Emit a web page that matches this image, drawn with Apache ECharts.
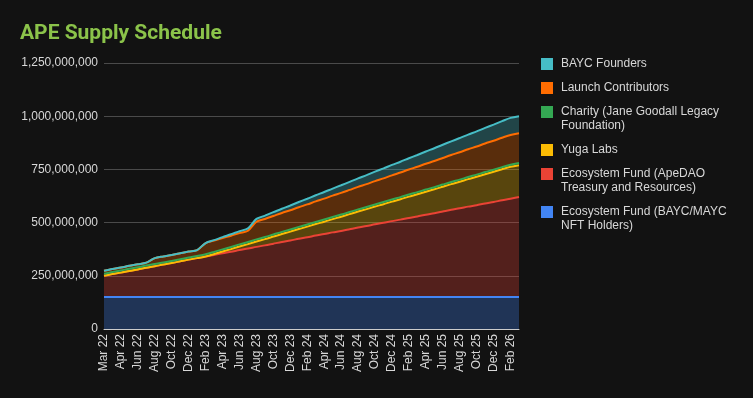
<!DOCTYPE html>
<html>
<head>
<meta charset="utf-8">
<script src="https://cdn.jsdelivr.net/npm/echarts@6/dist/echarts.min.js"></script>
<style>
  html, body { margin: 0; padding: 0; background: #121212; }
  #chart { width: 753px; height: 398px; }
</style>
</head>
<body>
<div id="chart"></div>
<script>
// months on the x axis (first two points are both in Mar 22)
const months = [
  "Mar 22", "Mar 22", "Apr 22", "May 22", "Jun 22", "Jul 22", "Aug 22", "Sep 22", "Oct 22", "Nov 22", "Dec 22",
  "Jan 23", "Feb 23", "Mar 23", "Apr 23", "May 23", "Jun 23", "Jul 23", "Aug 23", "Sep 23", "Oct 23", "Nov 23", "Dec 23",
  "Jan 24", "Feb 24", "Mar 24", "Apr 24", "May 24", "Jun 24", "Jul 24", "Aug 24", "Sep 24", "Oct 24", "Nov 24", "Dec 24",
  "Jan 25", "Feb 25", "Mar 25", "Apr 25", "May 25", "Jun 25", "Jul 25", "Aug 25", "Sep 25", "Oct 25", "Nov 25", "Dec 25",
  "Jan 26", "Feb 26", "Mar 26"
];

// unlocked supply per allocation, in millions of APE
const nftHolders = [
  150, 150, 150, 150, 150, 150, 150, 150, 150, 150, 150, 150, 150, 150, 150, 150, 150, 150, 150, 150, 150, 150, 150, 150, 150,
  150, 150, 150, 150, 150, 150, 150, 150, 150, 150, 150, 150, 150, 150, 150, 150, 150, 150, 150, 150, 150, 150, 150, 150, 150
];
const apeDao = [
  100, 108, 115, 123, 130, 138, 145, 153, 160, 168, 176, 183, 191, 198, 206, 213, 221, 228, 236, 243, 251, 259, 266, 274, 281,
  289, 296, 304, 311, 319, 327, 334, 342, 349, 357, 364, 372, 379, 387, 394, 402, 410, 417, 425, 432, 440, 447, 455, 462, 470
];
const yugaLabs = [
  0, 0, 0, 0, 0, 0, 0, 0, 0, 0, 0, 0, 0, 4.2, 8.3, 12.5, 16.7, 20.8, 25, 29.2, 33.3, 37.5, 41.7, 45.8, 50,
  54.2, 58.3, 62.5, 66.7, 70.8, 75, 79.2, 83.3, 87.5, 91.7, 95.8, 100, 104.2, 108.3, 112.5, 116.7, 120.8, 125, 129.2, 133.3,
  137.5, 141.7, 145.8, 150, 150
];
const charity = [
  10, 10, 10, 10, 10, 10, 10, 10, 10, 10, 10, 10, 10, 10, 10, 10, 10, 10, 10, 10, 10, 10, 10, 10, 10,
  10, 10, 10, 10, 10, 10, 10, 10, 10, 10, 10, 10, 10, 10, 10, 10, 10, 10, 10, 10, 10, 10, 10, 10, 10
];
const launchContributors = [
  14, 14, 14, 14, 14, 14, 28, 28, 28, 28, 28, 28, 53, 53, 53, 53, 53, 53, 83, 84.9, 86.8, 88.7, 90.6, 92.5, 94.4,
  96.3, 98.2, 100.1, 102, 103.9, 105.8, 107.7, 109.6, 111.5, 113.4, 115.3, 117.2, 119.1, 121, 122.9, 124.8, 126.7, 128.6, 130.5,
  132.4, 134.3, 136.2, 138.1, 140, 140
];
const founders = [
  0, 0, 0, 0, 0, 0, 0, 0, 0, 0, 0, 0, 0, 2.2, 4.4, 6.7, 8.9, 11.1, 13.3, 15.6, 17.8, 20, 22.2, 24.4, 26.7,
  28.9, 31.1, 33.3, 35.6, 37.8, 40, 42.2, 44.4, 46.7, 48.9, 51.1, 53.3, 55.6, 57.8, 60, 62.2, 64.4, 66.7, 68.9, 71.1,
  73.3, 75.6, 77.8, 80, 80
];
const yTicks = [0, 250, 500, 750, 1000, 1250];

// bottom of the stack first
const seriesDefs = [
  { name: "Ecosystem Fund (BAYC/MAYC\nNFT Holders)", color: "#4285f4", data: nftHolders, legendY: 212 },
  { name: "Ecosystem Fund (ApeDAO\nTreasury and Resources)", color: "#ea4335", data: apeDao, legendY: 174 },
  { name: "Yuga Labs", color: "#fbbc04", data: yugaLabs, legendY: 150 },
  { name: "Charity (Jane Goodall Legacy\nFoundation)", color: "#34a853", data: charity, legendY: 112 },
  { name: "Launch Contributors", color: "#ff6d01", data: launchContributors, legendY: 88 },
  { name: "BAYC Founders", color: "#46bdc6", data: founders, legendY: 64 },
];

const chart = echarts.init(document.getElementById("chart"));

// one legend per entry so the two-line labels sit like the original
const legends = seriesDefs.map((s) => {
  const twoLines = s.name.indexOf("\n") >= 0;
  return {
    orient: "vertical",
    left: 541,
    top: s.legendY - 7,
    padding: 0,
    itemWidth: 12,
    itemHeight: twoLines ? 26 : 12,
    // square at the top of the item box, next to the first text line
    icon: twoLines ? "path://M0,0H12V12H0Z M0,26H0.01V25.99Z" : "rect",
    selectedMode: false,
    data: [s.name],
    textStyle: {
      color: "#d8d8d8",
      fontSize: 12,
      fontFamily: "Liberation Sans, Arial, sans-serif",
      lineHeight: 14,
      padding: [0, 0, 0, 3],
    },
  };
});

chart.setOption({
  backgroundColor: "#121212",
  animation: false,
  title: {
    text: "APE Supply Schedule",
    left: 20,
    top: 23,
    padding: 0,
    textStyle: {
      color: "#8bc34a",
      fontSize: 21,
      fontWeight: "bold",
      fontFamily: "Roboto, Liberation Sans, Arial, sans-serif",
    },
  },
  legend: legends,
  grid: { left: 104, right: 234, top: 63, bottom: 69 },
  xAxis: {
    type: "category",
    data: months,
    boundaryGap: false,
    axisLine: { lineStyle: { color: "#cccccc", width: 1 } },
    axisTick: { show: false },
    axisLabel: {
      rotate: 90,
      interval: 1,
      margin: 5,
      color: "#d8d8d8",
      fontSize: 12,
      fontFamily: "Liberation Sans, Arial, sans-serif",
    },
    splitLine: { show: false },
  },
  yAxis: {
    type: "value",
    min: yTicks[0],
    max: yTicks[yTicks.length - 1],
    interval: yTicks[1] - yTicks[0],
    axisLine: { show: false },
    axisTick: { show: false },
    axisLabel: {
      margin: 6,
      color: "#d8d8d8",
      fontSize: 12,
      fontFamily: "Liberation Sans, Arial, sans-serif",
      formatter: (v) => (v * 1000000).toLocaleString("en-US"),
    },
    splitLine: { lineStyle: { color: "#4a4a4a", width: 1 } },
  },
  series: seriesDefs.map((s) => ({
    name: s.name,
    type: "line",
    stack: "supply",
    data: s.data,
    smooth: 0.3,
    showSymbol: false,
    color: s.color,
    lineStyle: { width: 2, color: s.color },
    areaStyle: { color: s.color, opacity: 0.3 },
  })),
});
</script>
</body>
</html>
